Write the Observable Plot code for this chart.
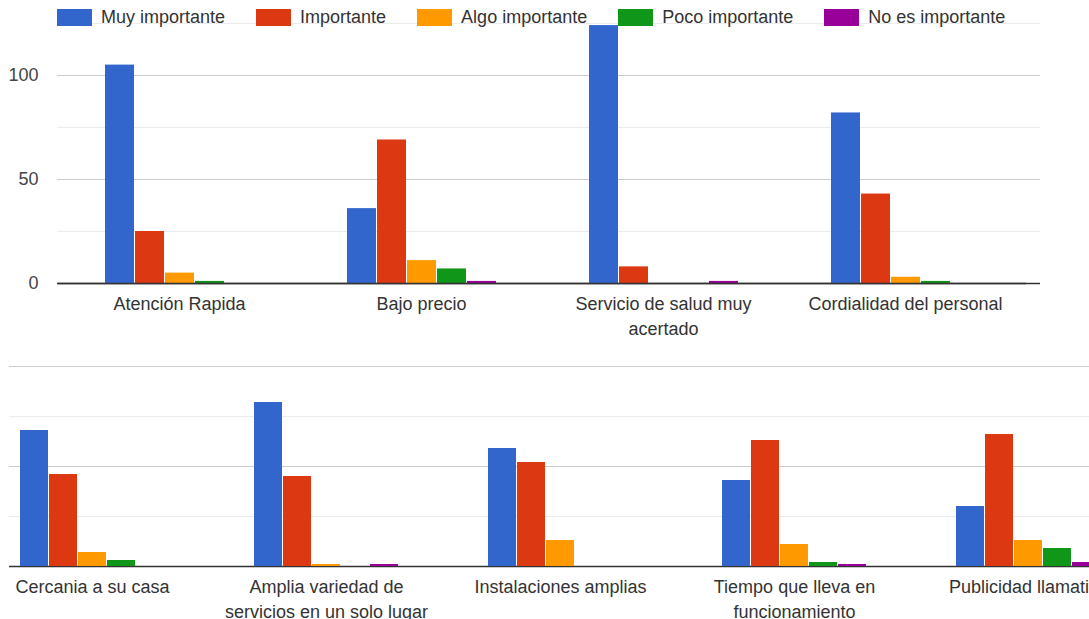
<!DOCTYPE html>
<html>
<head>
<meta charset="utf-8">
<script src="https://cdn.jsdelivr.net/npm/d3@7"></script>
<script src="https://cdn.jsdelivr.net/npm/@observablehq/plot@0.6"></script>
<style>
  html, body { margin: 0; padding: 0; background: #fff; overflow: hidden; }
  body { width: 1089px; height: 619px; font-family: "Liberation Sans", Arial, sans-serif; }
  #top { position: relative; width: 1089px; height: 350px; }
  #bottom { position: relative; width: 1089px; height: 269px; }
  #top > svg, #bottom > svg { position: absolute; left: 0; top: 0; display: block; }
  #legend { position: absolute; left: 57px; top: 7px; display: flex; align-items: center;
            font-size: 18px; color: #333; white-space: nowrap; }
  .item { display: flex; align-items: center; margin-right: 31px; }
  .sw { width: 35px; height: 17px; margin-right: 9px; }
</style>
</head>
<body>
<div id="top"></div>
<div id="bottom"></div>
<script>
// ---- data ----
const series = ["Muy importante", "Importante", "Algo importante", "Poco importante", "No es importante"];
const colors = ["#3366cc", "#dc3912", "#ff9900", "#109618", "#990099"];

const topCategories = ["Atención Rapida", "Bajo precio", "Servicio de salud muy acertado", "Cordialidad del personal"];
const topLabels = ["Atención Rapida", "Bajo precio", "Servicio de salud muy\nacertado", "Cordialidad del personal"];
const topMuy   = [105, 36, 124, 82];
const topImp   = [25, 69, 8, 43];
const topAlgo  = [5, 11, 0, 3];
const topPoco  = [1, 7, 0, 1];
const topNo    = [0, 1, 1, 0];
const topTickLabels = [0, 50, 100];
const topMajor = [50, 100];
const topMinor = [25, 75, 125];

const bottomCategories = ["Cercania a su casa", "Amplia variedad de servicios en un solo lugar", "Instalaciones amplias", "Tiempo que lleva en funcionamiento", "Publicidad llamativa"];
const bottomLabels = ["Cercania a su casa", "Amplia variedad de\nservicios en un solo lugar", "Instalaciones amplias", "Tiempo que lleva en\nfuncionamiento", "Publicidad llamativa"];
const bottomMuy  = [68, 82, 59, 43, 30];
const bottomImp  = [46, 45, 52, 63, 66];
const bottomAlgo = [7, 1, 13, 11, 13];
const bottomPoco = [3, 0, 0, 2, 9];
const bottomNo   = [0, 1, 0, 1, 2];
const bottomMajor = [50, 100];
const bottomMinor = [25, 75];

// ---- build tables ----
function rows(categories, cols) {
  const out = [];
  categories.forEach((c, i) => cols.forEach((col, j) => out.push({category: c, series: series[j], value: col[i]})));
  return out;
}
const topRows = rows(topCategories, [topMuy, topImp, topAlgo, topPoco, topNo]);
const bottomRows = rows(bottomCategories, [bottomMuy, bottomImp, bottomAlgo, bottomPoco, bottomNo]);
const topLabelOf = new Map(topCategories.map((c, i) => [c, topLabels[i]]));
const bottomLabelOf = new Map(bottomCategories.map((c, i) => [c, bottomLabels[i]]));

const font = "Liberation Sans, Arial, sans-serif";
const baseStyle = {fontFamily: font, fontSize: "18px", color: "#333", background: "transparent"};

// ---- top chart: grid layer ----
const topDims = {width: 1089, height: 350, marginTop: 23, marginBottom: 67, marginLeft: 57, marginRight: 49};
const topGrid = Plot.plot({
  ...topDims,
  style: baseStyle,
  x: {axis: null},
  y: {domain: [0, 125], axis: null},
  marks: [
    Plot.ruleY(topMinor, {stroke: "#ebebeb", strokeWidth: 1}),
    Plot.ruleY(topMajor, {stroke: "#cccccc", strokeWidth: 1}),
    Plot.axisY(topTickLabels, {tickSize: 0, tickPadding: 19, fill: "#444", label: null}),
    Plot.ruleY([0], {stroke: "#333", strokeWidth: 1.6})
  ]
});
// ---- top chart: bar layer ----
const topBars = Plot.plot({
  ...topDims,
  style: baseStyle,
  fx: {domain: topCategories, range: [56, 1027.3], padding: 0},
  x: {domain: series, paddingInner: 0.04, paddingOuter: 1.54, axis: null},
  y: {domain: [0, 125], axis: null},
  color: {domain: series, range: colors},
  marks: [
    Plot.barY(topRows, {fx: "category", x: "series", y: "value", fill: "series"}),
    Plot.ruleY([0], {stroke: "#333", strokeWidth: 1.6}),
    Plot.axisFx({anchor: "bottom", tickSize: 0, tickPadding: 9, fill: "#333", label: null, lineHeight: 1.38,
                 tickFormat: d => topLabelOf.get(d)})
  ]
});
document.getElementById("top").appendChild(topGrid);
document.getElementById("top").appendChild(topBars);

// legend (HTML, drawn over the top gridline like the original)
const legend = document.createElement("div");
legend.id = "legend";
series.forEach((s, i) => {
  const item = document.createElement("div");
  item.className = "item";
  const sw = document.createElement("div");
  sw.className = "sw";
  sw.style.background = colors[i];
  const t = document.createElement("span");
  t.textContent = s;
  item.appendChild(sw); item.appendChild(t);
  legend.appendChild(item);
});
document.getElementById("top").appendChild(legend);

// ---- bottom chart (scrolled view: y labels and right part cut off) ----
const bottomDims = {width: 1089, height: 269, marginTop: 16, marginBottom: 53, marginLeft: 9, marginRight: 0};
const bottomGrid = Plot.plot({
  ...bottomDims,
  style: baseStyle,
  x: {axis: null},
  y: {domain: [0, 100], axis: null},
  marks: [
    Plot.ruleY(bottomMinor, {stroke: "#ebebeb", strokeWidth: 1}),
    Plot.ruleY(bottomMajor, {stroke: "#cccccc", strokeWidth: 1}),
    Plot.ruleY([0], {stroke: "#333", strokeWidth: 1.6})
  ]
});
const bottomBars = Plot.plot({
  ...bottomDims,
  style: baseStyle,
  fx: {domain: bottomCategories, range: [-25.5, 1144.7], padding: 0},
  x: {domain: series, paddingInner: 0.044, paddingOuter: 1.52, axis: null},
  y: {domain: [0, 100], axis: null},
  color: {domain: series, range: colors},
  marks: [
    Plot.barY(bottomRows, {fx: "category", x: "series", y: "value", fill: "series"}),
    Plot.axisFx({anchor: "bottom", tickSize: 0, tickPadding: 9, fill: "#333", label: null, lineHeight: 1.38,
                 tickFormat: d => bottomLabelOf.get(d)})
  ]
});
document.getElementById("bottom").appendChild(bottomGrid);
document.getElementById("bottom").appendChild(bottomBars);
</script>
</body>
</html>
